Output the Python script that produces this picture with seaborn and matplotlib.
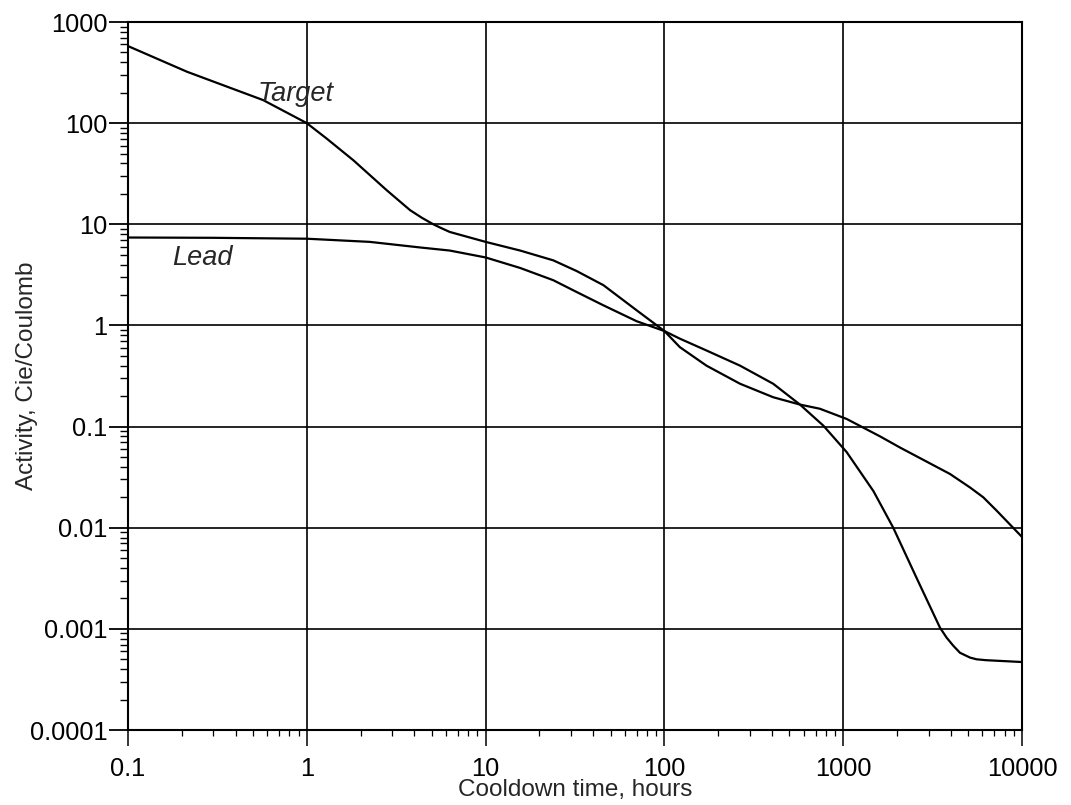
import matplotlib
matplotlib.use("Agg")
import matplotlib.pyplot as plt
import seaborn as sns
import pandas as pd
import numpy as np
from matplotlib.ticker import LogLocator, NullFormatter

# ---- data ----
target_time = [0.1, 0.214, 0.57, 1, 1.29, 1.82, 2.8, 3.78, 4.4, 5.1, 5.7, 6.3, 10, 15.6, 23.9,
               32.3, 45.6, 70, 100, 122, 172, 265, 406, 573, 741, 1045, 1607, 2080, 3955, 5120,
               6070, 7200, 10000]
target_activity = [578, 322, 169, 100, 70.5, 43, 21.7, 13.8, 11.6, 10, 9.1, 8.4, 6.7, 5.5, 4.4,
                   3.45, 2.5, 1.41, 0.88, 0.61, 0.40, 0.265, 0.195, 0.165, 0.15, 0.119, 0.080,
                   0.062, 0.034, 0.025, 0.020, 0.0148, 0.0081]

lead_time = [0.1, 0.3, 1, 2.25, 4.3, 6.3, 10, 15.6, 23.9, 32.3, 45.6, 70, 100, 122, 172, 265,
             406, 573, 775, 1045, 1476, 1905, 2570, 3475, 3785, 4130, 4500, 5120, 5570, 6300,
             10000]
lead_activity = [7.4, 7.35, 7.2, 6.7, 5.9, 5.5, 4.7, 3.7, 2.8, 2.14, 1.58, 1.1, 0.88, 0.74,
                 0.565, 0.40, 0.265, 0.165, 0.102, 0.056, 0.023, 0.010, 0.0032, 0.00103,
                 0.00082, 0.00068, 0.00058, 0.00052, 0.0005, 0.00049, 0.00047]

x_ticks = [0.1, 1, 10, 100, 1000, 10000]
x_tick_labels = ["0.1", "1", "10", "100", "1000", "10000"]
y_ticks = [0.0001, 0.001, 0.01, 0.1, 1, 10, 100, 1000]
y_tick_labels = ["0.0001", "0.001", "0.01", "0.1", "1", "10", "100", "1000"]

df = pd.concat([
    pd.DataFrame({"time": target_time, "activity": target_activity, "series": "Target"}),
    pd.DataFrame({"time": lead_time, "activity": lead_activity, "series": "Lead"}),
])

sns.set_style("ticks")
plt.rcParams["font.family"] = ["Liberation Sans", "DejaVu Sans"]

fig = plt.figure(figsize=(10.71, 8.05), dpi=100)
ax = fig.add_axes([128 / 1071, 75 / 805, (1022 - 128) / 1071, (730 - 22) / 805])

sns.lineplot(data=df, x="time", y="activity", units="series", estimator=None,
             color="black", linewidth=1.6, sort=False, ax=ax, legend=False)

ax.set_xscale("log")
ax.set_yscale("log")
ax.set_xlim(0.1, 10000)
ax.set_ylim(0.0001, 1000)

ax.set_xticks(x_ticks, x_tick_labels)
ax.set_yticks(y_ticks, y_tick_labels)
ax.xaxis.set_minor_locator(LogLocator(base=10, subs=np.arange(2, 10), numticks=100))
ax.yaxis.set_minor_locator(LogLocator(base=10, subs=np.arange(2, 10), numticks=100))
ax.xaxis.set_minor_formatter(NullFormatter())
ax.yaxis.set_minor_formatter(NullFormatter())

ax.tick_params(axis="y", which="major", direction="out", length=13.5, width=1.3,
               labelsize=18.3, colors="black", pad=1.5)
ax.tick_params(axis="y", which="minor", direction="out", length=6, width=1.0, colors="black")
ax.tick_params(axis="x", which="major", direction="out", length=11.5, width=1.1,
               labelsize=18.3, colors="black", pad=8)
ax.tick_params(axis="x", which="minor", direction="out", length=4, width=0.9, colors="black")

ax.grid(True, which="major", color="black", linewidth=1.2)
ax.grid(False, which="minor")
for s in ax.spines.values():
    s.set_color("black")
    s.set_linewidth(1.5)

ax.set_xlabel("Cooldown time, hours", fontsize=17.5)
ax.set_ylabel("Activity, Cie/Coulomb", fontsize=17.5)
ax.xaxis.set_label_coords(0.5, (730 - 779) / 708)
ax.yaxis.set_label_coords((38 - 128) / 894, 0.5)

ax.text(0.533, 194, "Target", fontsize=19.5, fontstyle="italic", ha="left", va="center")
ax.text(0.176, 4.6, "Lead", fontsize=19.5, fontstyle="italic", ha="left", va="center")

fig.savefig("out.png", dpi=100, facecolor="white")
